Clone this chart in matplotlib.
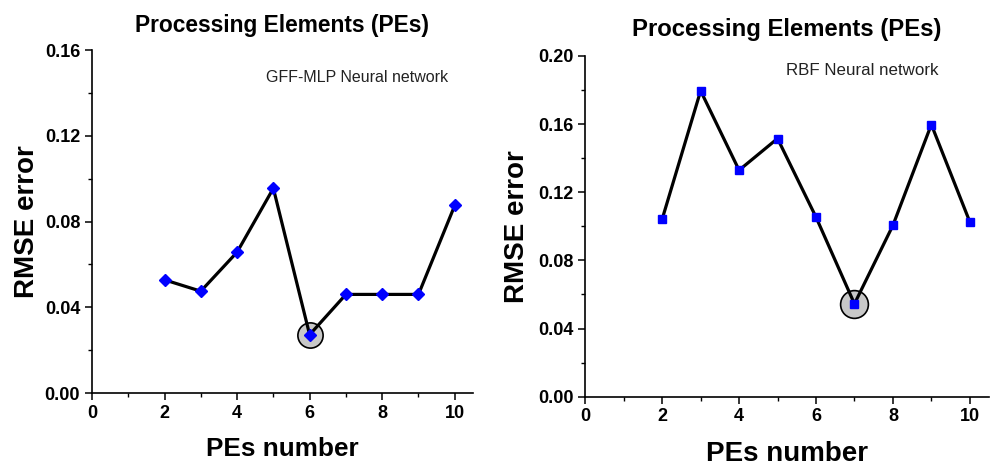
import matplotlib
matplotlib.use('Agg')
import matplotlib.pyplot as plt
from matplotlib.ticker import MultipleLocator

plt.rcParams['font.family'] = ['Liberation Sans', 'DejaVu Sans']

# GFF-MLP panel
pes = [2, 3, 4, 5, 6, 7, 8, 9, 10]
gff_rmse = [0.0528, 0.0475, 0.0657, 0.0955, 0.0272, 0.046, 0.046, 0.046, 0.0875]
gff_best = 6

# RBF panel
rbf_rmse = [0.1042, 0.1795, 0.1329, 0.1515, 0.1054, 0.0545, 0.1005, 0.1597, 0.1026]
rbf_best = 7

fig = plt.figure(figsize=(9.92, 4.65), dpi=100)
ax1 = fig.add_axes([0.0927, 0.1548, 0.384, 0.7376])
ax2 = fig.add_axes([0.590, 0.1469, 0.407, 0.733])


def style_axis(ax, ymax, title_size, xlab_size, title_pad):
    ax.set_xlim(0, 10.5)
    ax.set_ylim(0, ymax)
    ax.spines['top'].set_visible(False)
    ax.spines['right'].set_visible(False)
    ax.spines['left'].set_linewidth(1.2)
    ax.spines['bottom'].set_linewidth(1.2)
    ax.xaxis.set_major_locator(MultipleLocator(2))
    ax.xaxis.set_minor_locator(MultipleLocator(1))
    ax.yaxis.set_major_locator(MultipleLocator(0.04))
    ax.yaxis.set_minor_locator(MultipleLocator(0.02))
    ax.yaxis.set_major_formatter(plt.FormatStrFormatter('%.2f'))
    ax.tick_params(which='major', length=5, width=1.1, labelsize=13)
    ax.tick_params(which='minor', length=3, width=1.0)
    for lab in ax.get_xticklabels() + ax.get_yticklabels():
        lab.set_fontweight('bold')
    ax.set_xlabel('PEs number', fontsize=xlab_size, fontweight='bold', labelpad=11)
    ax.set_ylabel('RMSE error', fontsize=20, fontweight='bold', labelpad=6)
    ax.set_title('Processing Elements (PEs)', fontsize=title_size, fontweight='bold',
                 pad=title_pad)


# left
i = pes.index(gff_best)
ax1.scatter([gff_best], [gff_rmse[i]], s=330, facecolor='#c8c8c8', edgecolor='black',
            linewidth=1.2, zorder=2)
ax1.plot(pes, gff_rmse, color='black', linewidth=2.3, marker='D', markersize=6.5,
         markerfacecolor='#0000ff', markeredgecolor='#0000ff', zorder=3)
style_axis(ax1, 0.16, 16.4, 18.8, 13)
ax1.yaxis.labelpad = 3
ax1.text(0.934, 0.921, 'GFF-MLP Neural network', transform=ax1.transAxes,
         fontsize=11.5, ha='right', va='center', color='#222222')

# right
i = pes.index(rbf_best)
ax2.scatter([rbf_best], [rbf_rmse[i]], s=400, facecolor='#c8c8c8', edgecolor='black',
            linewidth=1.2, zorder=2)
ax2.plot(pes, rbf_rmse, color='black', linewidth=2.3, marker='s', markersize=6,
         markerfacecolor='#0000ff', markeredgecolor='#0000ff', zorder=3)
style_axis(ax2, 0.20, 17.2, 20, 14)
ax2.text(0.874, 0.958, 'RBF Neural network', transform=ax2.transAxes,
         fontsize=12.2, ha='right', va='center', color='#222222')

fig.savefig('out.png', dpi=100)
